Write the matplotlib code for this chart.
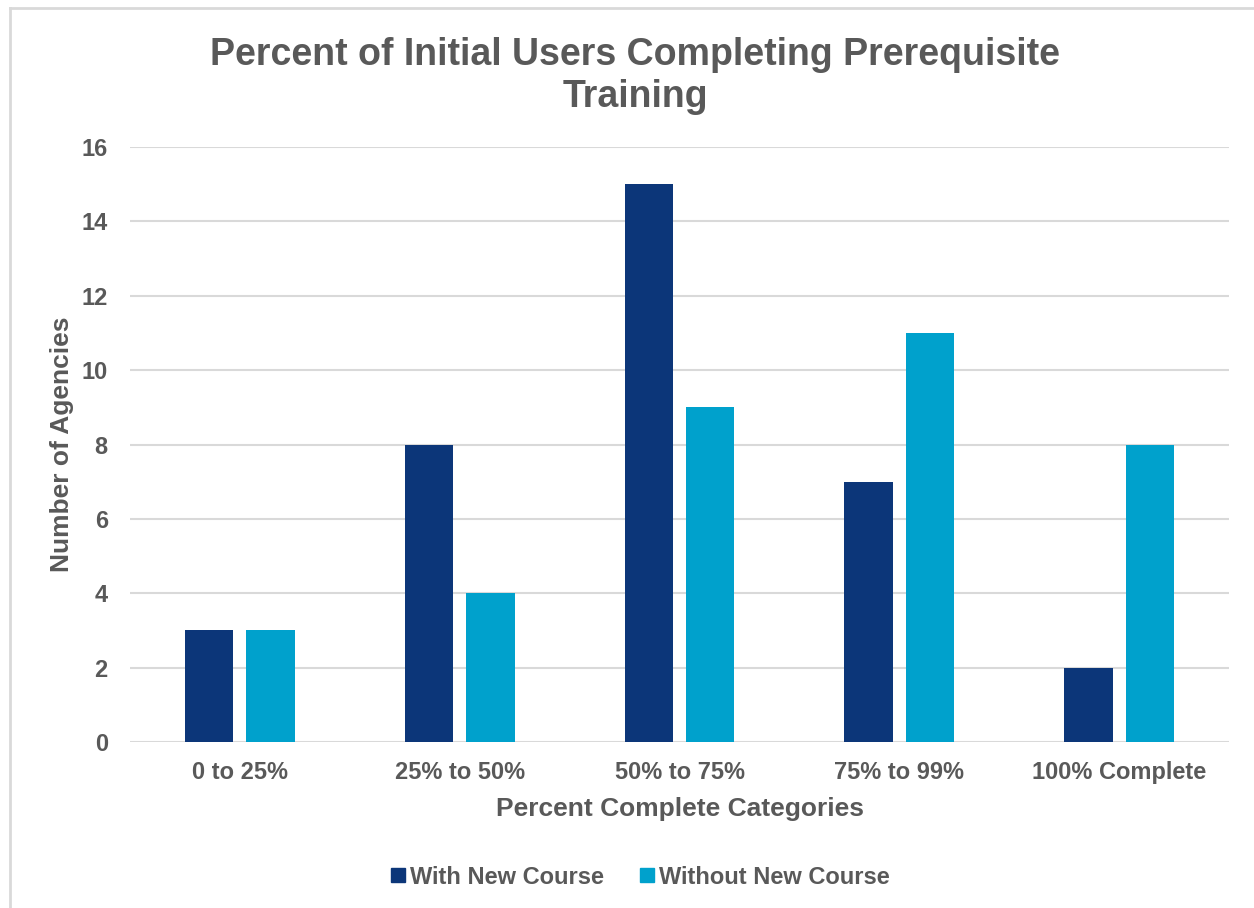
import matplotlib
matplotlib.use("Agg")
import matplotlib.pyplot as plt
import numpy as np
from matplotlib.lines import Line2D

categories = ["0 to 25%", "25% to 50%", "50% to 75%", "75% to 99%", "100% Complete"]
with_new = [3, 8, 15, 7, 2]
without_new = [3, 4, 9, 11, 8]
series_names = ["With New Course", "Without New Course"]
yticks = [0, 2, 4, 6, 8, 10, 12, 14, 16]

TXT = "#595959"
C1 = "#0C3679"
C2 = "#00A1CC"
plt.rcParams['font.family'] = ['Liberation Sans', 'DejaVu Sans']
plt.rcParams['font.weight'] = 'bold'

fig = plt.figure(figsize=(12.54, 9.08), dpi=100)
ax = fig.add_axes([130/1254, 1-742/908, 1099/1254, (742-147)/908])

x = np.arange(len(categories))
w = 0.22
off = 0.14
ax.bar(x - off, with_new, w, color=C1, label=series_names[0], zorder=3)
ax.bar(x + off, without_new, w, color=C2, label=series_names[1], zorder=3)

ax.set_xlim(-0.5, len(categories) - 0.5)
ax.set_ylim(0, 16)
ax.set_yticks(yticks)
ax.set_xticks(x)
ax.set_xticklabels(categories)
ax.yaxis.grid(True, color="#D9D9D9", linewidth=1.5, zorder=0)
for s in ax.spines.values():
    s.set_visible(False)
ax.tick_params(axis='both', length=0, labelsize=17, labelcolor=TXT)
ax.tick_params(axis='x', pad=14)
ax.tick_params(axis='y', pad=16)

ax.set_xlabel("Percent Complete Categories", fontsize=19, color=TXT, fontweight='bold', labelpad=9)
ax.set_ylabel("Number of Agencies", fontsize=19, color=TXT, fontweight='bold', labelpad=5)

fig.text(635/1254, 1-76/908, "Percent of Initial Users Completing Prerequisite\nTraining",
         ha='center', va='center', fontsize=27, fontweight='bold', color=TXT, linespacing=1.2)

handles = [Line2D([], [], marker='s', linestyle='none', markersize=10, color=C1),
           Line2D([], [], marker='s', linestyle='none', markersize=10, color=C2)]
fig.legend(handles, series_names, loc='center', bbox_to_anchor=(638/1254, 1-877/908),
           ncol=2, frameon=False, fontsize=17, labelcolor=TXT, handletextpad=0.0,
           columnspacing=1.3, handlelength=1.0)

# outer border (top and left visible)
fig.add_artist(Line2D([10/1254, 10/1254], [0, 1-8/908], transform=fig.transFigure, color="#D9D9D9", lw=2))
fig.add_artist(Line2D([10/1254, 1], [1-8/908, 1-8/908], transform=fig.transFigure, color="#D9D9D9", lw=2))

fig.savefig("out.png", dpi=100)
